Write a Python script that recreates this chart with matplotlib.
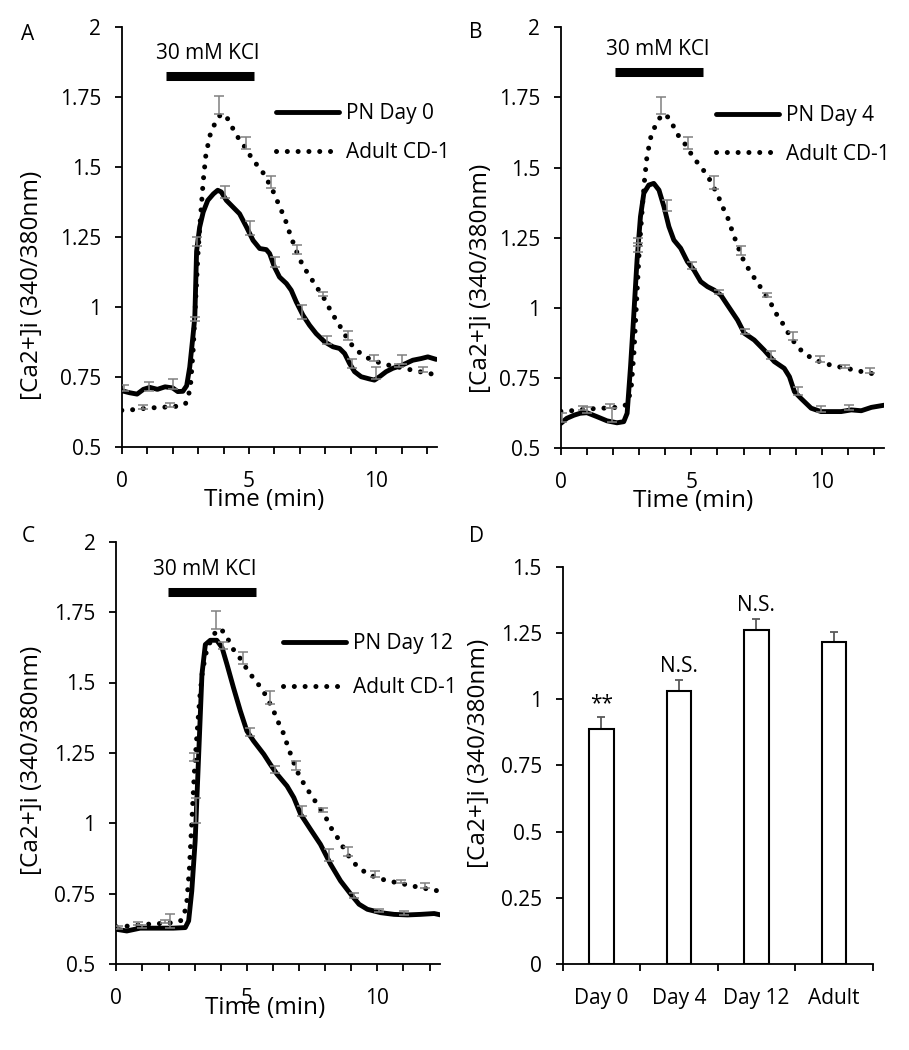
import numpy as np
import matplotlib
matplotlib.use("Agg")
import matplotlib.pyplot as plt

plt.rcParams["font.family"] = ["Open Sans", "DejaVu Sans"]
plt.rcParams["font.size"] = 15
plt.rcParams["axes.labelsize"] = 17.5

# Adult CD-1 trace (same recording shown in panels A-C)
adult_t = [0, 0.4, 0.8, 1.2, 1.6, 2.0, 2.3, 2.5, 2.6, 2.7, 2.8, 2.9, 3.0, 3.1, 3.2, 3.3,
           3.45, 3.6, 3.75, 3.9, 4.0, 4.15, 4.3, 4.5, 4.75, 5.0, 5.2, 5.4, 5.6, 5.8, 6.0,
           6.2, 6.4, 6.6, 6.8, 7.0, 7.25, 7.5, 7.75, 8.0, 8.25, 8.5, 8.75, 9.0, 9.25,
           9.5, 9.75, 10.0, 10.4, 10.8, 11.2, 11.6, 12.0, 12.3]
adult_y = [0.632, 0.634, 0.638, 0.641, 0.643, 0.645, 0.648, 0.655, 0.675, 0.72, 0.84, 1.02,
           1.2, 1.33, 1.45, 1.54, 1.61, 1.645, 1.672, 1.69, 1.69, 1.675, 1.65, 1.615, 1.585,
           1.548, 1.522, 1.498, 1.475, 1.44, 1.405, 1.36, 1.32, 1.265, 1.215, 1.17, 1.13,
           1.095, 1.06, 1.025, 0.98, 0.945, 0.905, 0.87, 0.845, 0.828, 0.815, 0.806, 0.795,
           0.788, 0.78, 0.772, 0.765, 0.76]
adult_eb_t = [0.84, 1.88, 2.96, 3.82, 4.87, 5.88, 6.9, 7.9, 8.89, 9.93, 10.9, 11.83]
adult_eb_mean = [0.638, 0.645, 1.22, 1.69, 1.565, 1.425, 1.19, 1.04, 0.885, 0.808, 0.786, 0.77]
adult_eb_sem = [0.012, 0.012, 0.03, 0.063, 0.043, 0.044, 0.032, 0.014, 0.031, 0.021, 0.011, 0.017]

# PN Day 0
day0_t = [0, 0.3, 0.6, 0.85, 1.1, 1.4, 1.7, 2.0, 2.2, 2.4, 2.55, 2.67, 2.8, 2.87, 2.94,
          3.06, 3.2, 3.38, 3.6, 3.77, 3.91, 4.11, 4.37, 4.63, 4.9, 5.16, 5.42, 5.68, 5.81,
          6.0, 6.2, 6.47, 6.66, 6.86, 7.12, 7.38, 7.64, 7.97, 8.3, 8.56, 8.76, 8.95, 9.15,
          9.41, 9.74, 9.93, 10.13, 10.39, 10.65, 10.92, 11.18, 11.44, 11.77, 12.03, 12.36]
day0_y = [0.702, 0.695, 0.69, 0.707, 0.714, 0.707, 0.716, 0.712, 0.699, 0.70, 0.72, 0.786,
          0.9, 0.964, 1.2, 1.286, 1.34, 1.382, 1.405, 1.418, 1.412, 1.382, 1.358, 1.334,
          1.287, 1.239, 1.21, 1.206, 1.192, 1.144, 1.108, 1.085, 1.061, 1.019, 0.972, 0.936,
          0.906, 0.877, 0.859, 0.853, 0.835, 0.80, 0.77, 0.752, 0.744, 0.74, 0.752, 0.77,
          0.782, 0.79, 0.80, 0.811, 0.817, 0.823, 0.814]
day0_eb_t = [0.1, 1.06, 2.0, 2.87, 4.04, 5.03, 6.02, 7.08, 8.06, 9.03, 10.0, 11.01]
day0_eb_mean = [0.70, 0.70, 0.71, 0.95, 1.39, 1.26, 1.145, 0.96, 0.87, 0.785, 0.745, 0.797]
day0_eb_sem = [0.022, 0.035, 0.033, 0.015, 0.045, 0.05, 0.033, 0.048, 0.028, 0.03, 0.043, 0.032]

# PN Day 4
day4_t = [0, 0.23, 0.5, 0.74, 1.0, 1.38, 1.77, 2.15, 2.41, 2.54, 2.67, 2.79, 2.92, 3.05,
          3.18, 3.37, 3.56, 3.76, 3.95, 4.14, 4.33, 4.59, 4.85, 5.1, 5.36, 5.62, 5.87, 6.13,
          6.38, 6.77, 7.03, 7.41, 7.79, 8.18, 8.56, 8.76, 8.95, 9.2, 9.59, 9.97, 10.36,
          10.74, 11.13, 11.51, 11.9, 12.41]
day4_y = [0.589, 0.607, 0.618, 0.625, 0.627, 0.613, 0.598, 0.591, 0.595, 0.625, 0.791,
          0.969, 1.171, 1.325, 1.409, 1.438, 1.444, 1.42, 1.361, 1.29, 1.242, 1.213, 1.165,
          1.135, 1.094, 1.076, 1.064, 1.046, 1.011, 0.957, 0.91, 0.886, 0.85, 0.809, 0.785,
          0.755, 0.702, 0.678, 0.643, 0.631, 0.631, 0.631, 0.637, 0.634, 0.646, 0.654]
day4_eb_t = [0.05, 1.0, 1.96, 2.95, 4.08, 5.04, 6.06, 7.05, 8.05, 9.08, 9.97, 11.06]
day4_eb_mean = [0.595, 0.627, 0.595, 1.2, 1.345, 1.14, 1.05, 0.908, 0.82, 0.69, 0.631, 0.636]
day4_eb_sem = [0.03, 0.02, 0.05, 0.03, 0.04, 0.025, 0.015, 0.017, 0.028, 0.027, 0.02, 0.018]

# PN Day 12
day12_t = [0, 0.4, 0.91, 1.55, 2.19, 2.64, 2.77, 2.89, 3.02, 3.15, 3.28, 3.41, 3.6, 3.85,
           4.05, 4.24, 4.49, 4.75, 5.0, 5.26, 5.65, 5.9, 6.16, 6.54, 6.8, 7.06, 7.44, 7.82,
           8.21, 8.59, 8.98, 9.3, 9.62, 10.13, 10.64, 11.15, 11.66, 12.18, 12.43]
day12_y = [0.623, 0.617, 0.627, 0.627, 0.627, 0.629, 0.653, 0.759, 0.937, 1.233, 1.529,
           1.635, 1.65, 1.65, 1.624, 1.564, 1.481, 1.399, 1.328, 1.292, 1.245, 1.209, 1.174,
           1.132, 1.091, 1.032, 0.978, 0.925, 0.854, 0.795, 0.748, 0.712, 0.694, 0.682,
           0.676, 0.674, 0.676, 0.679, 0.674]
day12_eb_t = [0.05, 1.0, 2.06, 3.05, 4.1, 5.13, 6.09, 7.12, 8.14, 9.1, 10.06, 11.02]
day12_eb_mean = [0.623, 0.627, 0.627, 1.0, 1.62, 1.31, 1.18, 1.025, 0.865, 0.735, 0.683, 0.675]
day12_eb_sem = [0.012, 0.013, 0.052, 0.09, 0.025, 0.027, 0.023, 0.036, 0.042, 0.018, 0.011, 0.013]

# Panel D summary
bar_labels = ["Day 0", "Day 4", "Day 12", "Adult"]
bar_means = [0.889, 1.030, 1.261, 1.217]
bar_sems = [0.043, 0.044, 0.044, 0.036]
bar_marks = ["**", "N.S.", "N.S.", ""]

ylabel = "[Ca2+]i (340/380nm)"

fig = plt.figure(figsize=(9.09, 10.5), dpi=100)


def style_axis(ax, ticks):
    for side in ("top", "right"):
        ax.spines[side].set_visible(False)
    for side in ("left", "bottom"):
        ax.spines[side].set_linewidth(1.3)
    ax.set_yticks(ticks)
    ax.set_yticklabels(["{:g}".format(v) for v in ticks])
    ax.tick_params(axis="y", direction="out", length=5, width=1.3, pad=10)
    ax.tick_params(axis="x", which="both", direction="out", length=5, width=1.3, pad=12)


panels = [
    dict(rect=[0.134, 0.574, 0.347, 0.400], t=day0_t, y=day0_y, eb=(day0_eb_t, day0_eb_mean, day0_eb_sem),
         name="PN Day 0", kcl=(1.75, 5.18, 1.825), kcl_text=(3.39, 1.905), leg=(0.49, 0.748), ls=0.85,
         ylab=(-0.286, 0.386), xlab=(0.45, -0.126)),
    dict(rect=[0.617, 0.573, 0.356, 0.401], t=day4_t, y=day4_y, eb=(day4_eb_t, day4_eb_mean, day4_eb_sem),
         name="PN Day 4", kcl=(2.08, 5.46, 1.842), kcl_text=(3.72, 1.92), leg=(0.48, 0.745), ls=0.85,
         ylab=(-0.248, 0.404), xlab=(0.409, -0.124)),
    dict(rect=[0.128, 0.082, 0.356, 0.402], t=day12_t, y=day12_y, eb=(day12_eb_t, day12_eb_mean, day12_eb_sem),
         name="PN Day 12", kcl=(1.96, 5.34, 1.821), kcl_text=(3.37, 1.90), leg=(0.515, 0.706), ls=1.1,
         ylab=(-0.262, 0.483), xlab=(0.46, -0.104)),
]

for p in panels:
    ax = fig.add_axes(p["rect"])
    ax.plot(p["t"], p["y"], color="black", lw=3.5, solid_joinstyle="round",
            solid_capstyle="round", label=p["name"], zorder=2)
    ax.plot(adult_t, adult_y, color="black", lw=3.6, linestyle=(0, (0.01, 2.15)),
            dash_capstyle="round", label="Adult CD-1", zorder=2)
    for et, em, es in (p["eb"], (adult_eb_t, adult_eb_mean, adult_eb_sem)):
        ax.errorbar(et, em, yerr=[np.zeros(len(es)), es], fmt="none", ecolor="#808080",
                    elinewidth=1.1, capsize=3.6, capthick=1.1, zorder=3)
    k0, k1, ky = p["kcl"]
    ax.plot([k0, k1], [ky, ky], color="black", lw=6.5, solid_capstyle="butt")
    ax.text(p["kcl_text"][0], p["kcl_text"][1], "30 mM KCl", ha="center", va="center")
    ax.set_xlim(0, 12.4)
    ax.set_ylim(0.5, 2)
    ax.set_xticks(range(13))
    ax.set_xticklabels(["0", "", "", "", "", "5", "", "", "", "", "10", "", ""])
    style_axis(ax, [0.5, 0.75, 1, 1.25, 1.5, 1.75, 2])
    ax.set_ylabel(ylabel)
    ax.yaxis.set_label_coords(*p["ylab"])
    ax.yaxis.label.set_verticalalignment("center")
    ax.set_xlabel("Time (min)")
    ax.xaxis.set_label_coords(*p["xlab"])
    ax.xaxis.label.set_verticalalignment("center")
    ax.legend(loc="center left", bbox_to_anchor=p["leg"], frameon=False, handlelength=3.0,
              handletextpad=0.35, labelspacing=p["ls"], borderpad=0, borderaxespad=0)

# Panel D
axd = fig.add_axes([0.619, 0.082, 0.341, 0.378])
x = np.arange(len(bar_labels))
axd.bar(x, bar_means, width=0.315, color="white", edgecolor="black", linewidth=1.5, zorder=2)
axd.errorbar(x, bar_means, yerr=[np.zeros(len(bar_sems)), bar_sems], fmt="none",
             ecolor="#595959", elinewidth=1.3, capsize=3.2, capthick=1.3, zorder=1)
for xi, m, s, mark in zip(x, bar_means, bar_sems, bar_marks):
    if mark:
        axd.text(xi, m + s + 0.03, mark, ha="center", va="baseline")
axd.set_xlim(-0.5, len(bar_labels) - 0.5)
axd.set_ylim(0, 1.5)
axd.set_xticks(x)
axd.set_xticklabels(bar_labels)
axd.set_xticks(np.arange(-0.5, len(bar_labels)), minor=True)
style_axis(axd, [0, 0.25, 0.5, 0.75, 1, 1.25, 1.5])
axd.tick_params(axis="x", which="major", length=0, pad=17)
axd.tick_params(axis="x", which="minor", length=5)
axd.set_ylabel(ylabel)
axd.yaxis.set_label_coords(-0.271, 0.531)
axd.yaxis.label.set_verticalalignment("center")

for letter, px, py in (("A", 28, 35), ("B", 476, 33), ("C", 28, 536), ("D", 476, 536)):
    fig.text(px / 909, 1 - py / 1050, letter, ha="center", va="center")

fig.savefig("out.png", dpi=100)
